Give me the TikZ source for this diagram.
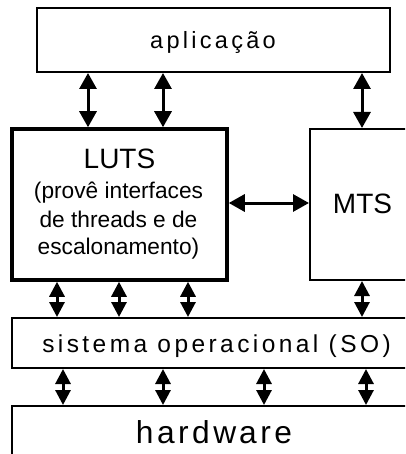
\documentclass[tikz,border=0pt]{standalone}
\usepackage{fontspec}
\setmainfont{Liberation Sans}
\usetikzlibrary{arrows.meta}
\begin{document}
\begin{tikzpicture}[x=1pt,y=-1pt,
  box/.style={draw=black,line width=2pt,fill=white,inner sep=0pt},
  thickbox/.style={box,line width=3.5pt},
  lbl/.style={inner sep=0pt,anchor=base,text=black},
  arr/.style={line width=3pt,{Triangle[width=17pt,length=16pt]}-{Triangle[width=17pt,length=16pt]}},
  sarr/.style={line width=3pt,{Triangle[width=15pt,length=15pt]}-{Triangle[width=15pt,length=15pt]}}]
\useasboundingbox (0,0) rectangle (405,454);
\clip (0,0) rectangle (405,454);
% boxes
\node[box,minimum width=353pt,minimum height=64pt] (app) at (213.5,40) {};
\node[thickbox,minimum width=215pt,minimum height=151pt] (luts) at (119.5,204.5) {};
\node[box,minimum width=110pt,minimum height=151pt] (mts) at (365,204.5) {};
\node[box,minimum width=408pt,minimum height=50pt] (so) at (216,343) {};
\node[box,minimum width=408pt,minimum height=64pt] (hw) at (216,438) {};
% texts
\node[lbl,font=\fontsize{23.5}{27}\selectfont\addfontfeatures{LetterSpace=14}] (appT) at (213,48.3) {aplicação};
\node[lbl,font=\fontsize{28}{32}\selectfont] (lutsT) at (119.5,169) {LUTS};
\node[lbl,font=\fontsize{22.7}{27}\selectfont] (lutsA) at (118.5,198) {(provê interfaces};
\node[lbl,font=\fontsize{22.7}{27}\selectfont] (lutsB) at (118.5,227) {de threads e de};
\node[lbl,font=\fontsize{22.7}{27}\selectfont] (lutsC) at (118.5,254.3) {escalonamento)};
\node[lbl,font=\fontsize{28}{32}\selectfont] (mtsT) at (362.5,213) {MTS};
\node[lbl,font=\fontsize{24.5}{28}\selectfont\addfontfeatures{LetterSpace=14}] (soT) at (216.5,352.3) {sistema operacional (SO)};
\node[lbl,font=\fontsize{31.7}{36}\selectfont\addfontfeatures{LetterSpace=11}] (hwT) at (214,443.3) {hardw\kern3pt are};
% arrows app - LUTS / MTS
\draw[arr] (88,0 |- app.south) -- (88,0 |- luts.north);
\draw[arr] (163,0 |- app.south) -- (163,0 |- luts.north);
\draw[arr] (362,0 |- app.south) -- (362,0 |- mts.north);
% LUTS - MTS
\draw[arr] (luts.east |- 0,203) -- (mts.west |- 0,203);
% LUTS/MTS - SO
\draw[sarr] (57,0 |- luts.south) -- (57,0 |- so.north);
\draw[sarr] (119,0 |- luts.south) -- (119,0 |- so.north);
\draw[sarr] (188,0 |- luts.south) -- (188,0 |- so.north);
\draw[sarr] (362,0 |- mts.south) -- (362,0 |- so.north);
% SO - hardware
\draw[sarr] (63,0 |- so.south) -- (63,0 |- hw.north);
\draw[sarr] (163,0 |- so.south) -- (163,0 |- hw.north);
\draw[sarr] (264,0 |- so.south) -- (264,0 |- hw.north);
\draw[sarr] (366,0 |- so.south) -- (366,0 |- hw.north);
\end{tikzpicture}
\end{document}
